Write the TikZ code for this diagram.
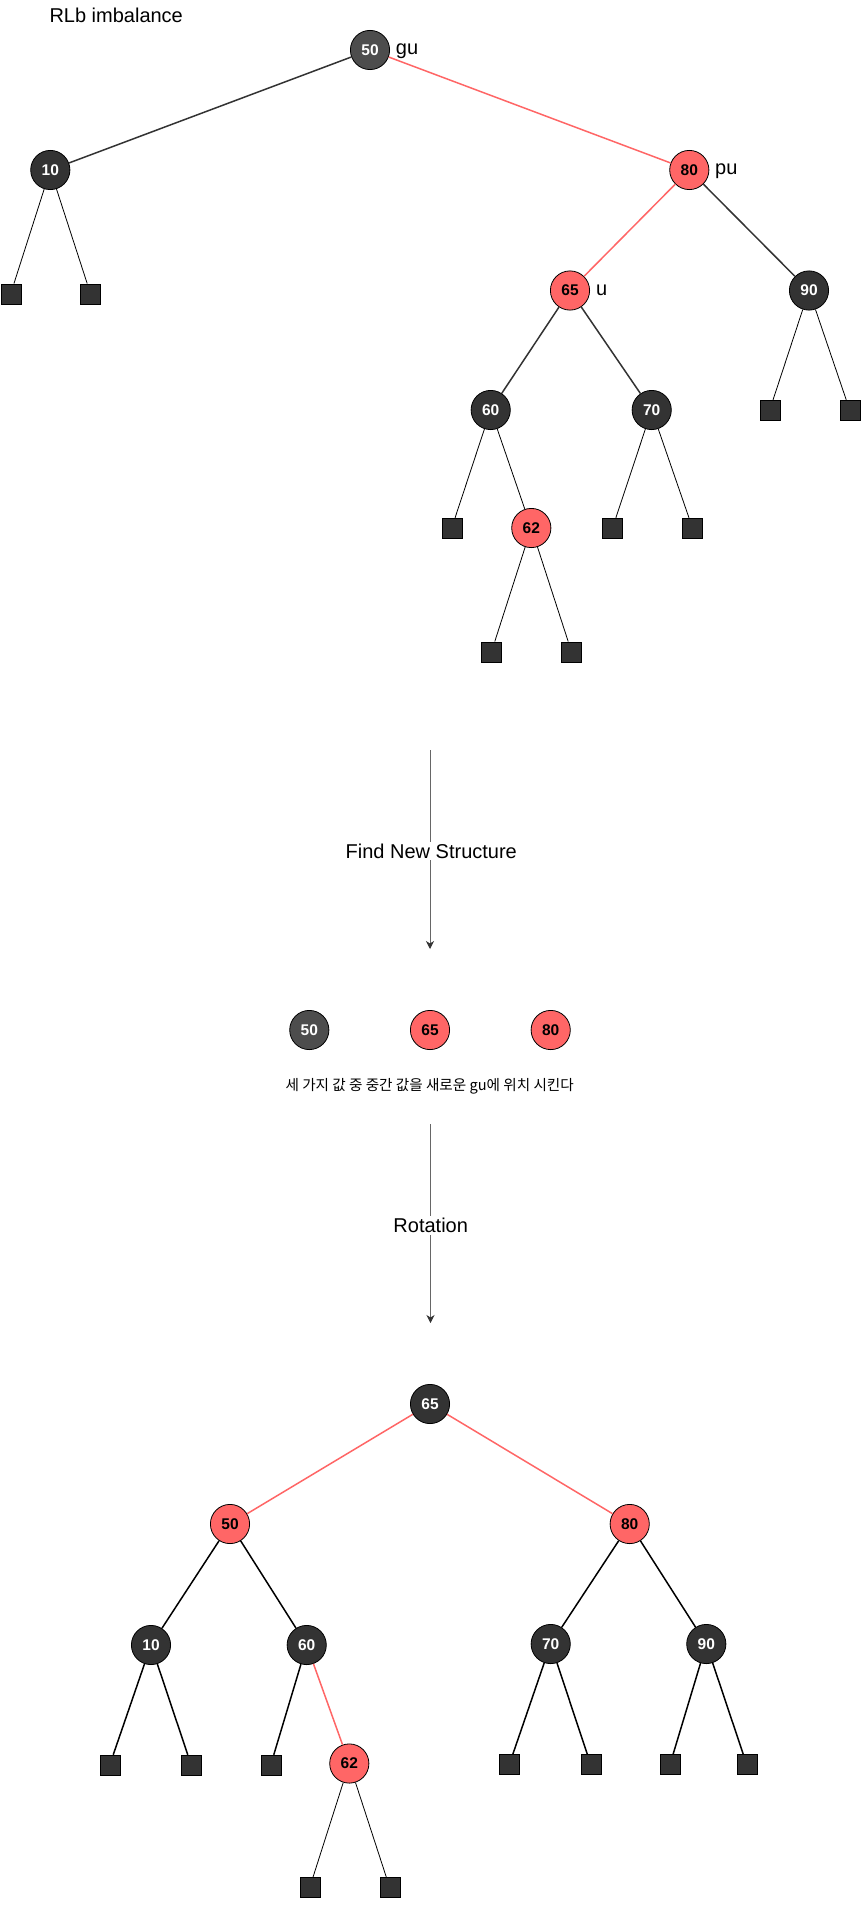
\documentclass[tikz,border=0pt]{standalone}
\usepackage{fontspec}
\setmainfont{Liberation Sans}
\newfontfamily\kofont{Noto Sans CJK KR}
\usetikzlibrary{arrows.meta}
\definecolor{rbred}{HTML}{FF6666}
\definecolor{rbdark}{HTML}{333333}
\definecolor{rbgray}{HTML}{4D4D4D}
\definecolor{arrgray}{HTML}{666666}
\tikzset{
  rbnode/.style={circle, draw=black, line width=0.8pt, minimum size=39.2pt, inner sep=0pt,
    font=\fontsize{15.5}{16}\selectfont\bfseries},
  blknode/.style={rbnode, fill=rbdark, text=white},
  grynode/.style={rbnode, fill=rbgray, text=white},
  rednode/.style={rbnode, fill=rbred, text=black},
  leafbox/.style={rectangle, fill=rbdark, draw=black, line width=0.4pt, minimum size=20pt, inner sep=0pt},
  dedge/.style={draw=rbdark, line width=1.5pt},
  bedge/.style={draw=black, line width=1.5pt},
  redge/.style={draw=rbred, line width=1.5pt},
  tedge/.style={draw=black, line width=0.8pt},
  biglbl/.style={inner sep=0pt, font=\fontsize{20}{24}\selectfont, text=black},
  arrlabel/.style={biglbl, fill=white, inner sep=2pt},
  flowarrow/.style={draw=arrgray, line width=0.9pt, -{Stealth[length=8pt,width=8pt,inset=2.5pt,color=rbdark]}},
}
\begin{document}
\begin{tikzpicture}[x=1pt,y=-1pt]
\useasboundingbox (0,0) rectangle (861,1913);

% ---------- title ----------
\node[biglbl, anchor=base west] (title) at (49.3,22.7) {RLb imbalance};

% ---------- top tree ----------
\node[grynode] (t50) at (370,50) {50};
\node[blknode] (t10) at (50.3,170) {10};
\node[rednode] (t80) at (689.3,170) {80};
\node[rednode] (t65) at (570,290.5) {65};
\node[blknode] (t90) at (809,290.5) {90};
\node[blknode] (t60) at (490.7,410) {60};
\node[blknode] (t70) at (651.7,410) {70};
\node[rednode] (t62) at (531.3,528) {62};

\node[biglbl, anchor=base west] (lgu) at (395.7,54.5) {gu};
\node[biglbl, anchor=base west] (lpu) at (715,174.5) {pu};
\node[biglbl, anchor=base west] (lu) at (596,295.5) {u};

\node[leafbox] (tl1) at (10.7,293.7) {};
\node[leafbox] (tl2) at (90.5,293.7) {};
\node[leafbox] (tl3) at (769.7,410) {};
\node[leafbox] (tl4) at (849.7,410) {};
\node[leafbox] (tl5) at (451.7,528) {};
\node[leafbox] (tl6) at (612.5,528) {};
\node[leafbox] (tl7) at (692.5,528) {};
\node[leafbox] (tl8) at (491.5,651.7) {};
\node[leafbox] (tl9) at (571.5,651.7) {};

\draw[dedge] (t50) -- (t10);
\draw[redge] (t50) -- (t80);
\draw[redge] (t80) -- (t65);
\draw[dedge] (t80) -- (t90);
\draw[dedge] (t65) -- (t60);
\draw[dedge] (t65) -- (t70);
\draw[tedge] (t60) -- (t62);
\draw[tedge] (t10) -- (tl1);
\draw[tedge] (t10) -- (tl2);
\draw[tedge] (t90) -- (tl3);
\draw[tedge] (t90) -- (tl4);
\draw[tedge] (t60) -- (tl5);
\draw[tedge] (t70) -- (tl6);
\draw[tedge] (t70) -- (tl7);
\draw[tedge] (t62) -- (tl8);
\draw[tedge] (t62) -- (tl9);

% ---------- first arrow ----------
\coordinate (a1s) at (430,750);
\coordinate (a1e) at (430,949);
\draw[flowarrow] (a1s) -- (a1e);
\node[arrlabel, anchor=base] (find) at (431.3,858) {Find New Structure};

% ---------- middle ----------
\node[grynode] (m50) at (309.3,1030) {50};
\node[rednode] (m65) at (430,1030) {65};
\node[rednode] (m80) at (550.7,1030) {80};
\node[inner sep=0pt, anchor=base, font=\kofont\fontsize{14.6}{17}\selectfont] (kor) at (429.7,1090.5)
  {세 가지 값 중 중간 값을 새로운 gu에 위치 시킨다};

% ---------- second arrow ----------
\coordinate (a2s) at (430.5,1124);
\coordinate (a2e) at (430.5,1323);
\draw[flowarrow] (a2s) -- (a2e);
\node[arrlabel, anchor=base] (rot) at (430.7,1232.5) {Rotation};

% ---------- bottom tree ----------
\node[blknode] (b65) at (430,1404) {65};
\node[rednode] (b50) at (230,1524) {50};
\node[rednode] (b80) at (629.7,1524) {80};
\node[blknode] (b10) at (151,1645) {10};
\node[blknode] (b60) at (306.7,1645) {60};
\node[blknode] (b70) at (550.7,1644) {70};
\node[blknode] (b90) at (706.3,1644) {90};
\node[rednode] (b62) at (349.3,1763.5) {62};

\node[leafbox] (bl1) at (109.7,1765) {};
\node[leafbox] (bl2) at (191.2,1765) {};
\node[leafbox] (bl3) at (270.7,1765) {};
\node[leafbox] (bl4) at (509.3,1764.5) {};
\node[leafbox] (bl5) at (590.7,1764.5) {};
\node[leafbox] (bl6) at (670,1764.5) {};
\node[leafbox] (bl7) at (746.7,1764.5) {};
\node[leafbox] (bl8) at (309.7,1887.5) {};
\node[leafbox] (bl9) at (389.7,1887.5) {};

\draw[redge] (b65) -- (b50);
\draw[redge] (b65) -- (b80);
\draw[bedge] (b50) -- (b10);
\draw[bedge] (b50) -- (b60);
\draw[redge] (b60) -- (b62);
\draw[bedge] (b80) -- (b70);
\draw[bedge] (b80) -- (b90);
\draw[bedge] (b10) -- (bl1);
\draw[bedge] (b10) -- (bl2);
\draw[bedge] (b60) -- (bl3);
\draw[bedge] (b70) -- (bl4);
\draw[bedge] (b70) -- (bl5);
\draw[bedge] (b90) -- (bl6);
\draw[bedge] (b90) -- (bl7);
\draw[tedge] (b62) -- (bl8);
\draw[tedge] (b62) -- (bl9);
\end{tikzpicture}
\end{document}
